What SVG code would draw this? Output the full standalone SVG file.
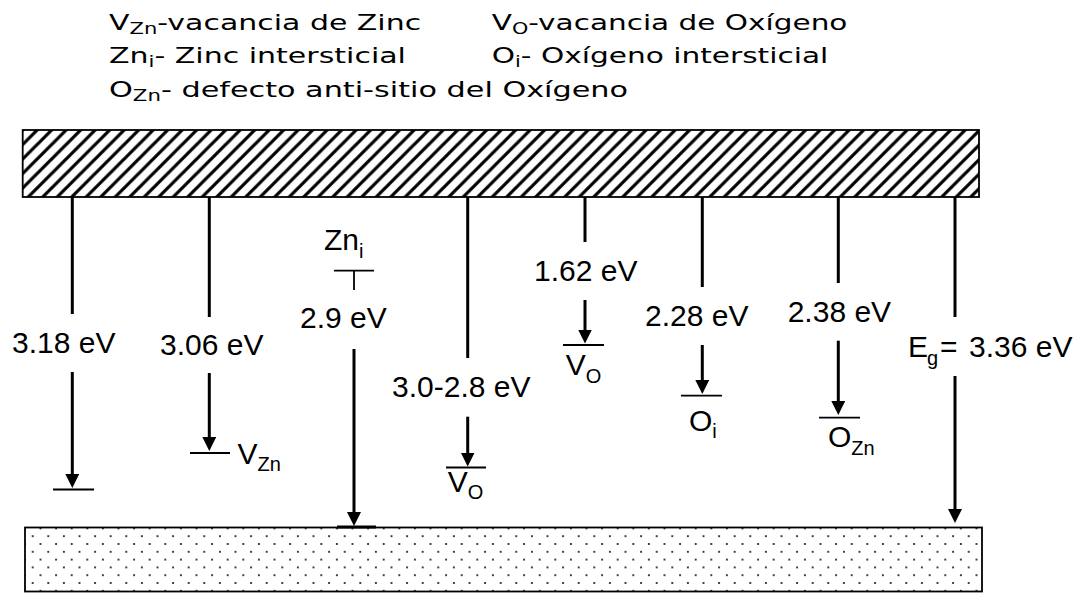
<svg xmlns="http://www.w3.org/2000/svg" width="1083" height="593" viewBox="0 0 1083 593">
<style>
.lg{font-family:"DejaVu Sans","Verdana",sans-serif;font-size:21.3px;fill:#000}
.lb{font-family:"Liberation Sans",Arial,sans-serif;font-size:30px;fill:#000}
.sb{font-size:20px}
.ln{stroke:#000;stroke-width:3;fill:none}
.lv{stroke:#000;stroke-width:1.8;fill:none}
.band{stroke:#000;stroke-width:1.8}
</style>
<defs>
<pattern id="hatch" patternUnits="userSpaceOnUse" x="22.7" y="130" width="14.5" height="14.5">
<path d="M-2,16.5 L16.5,-2 M-2,2 L2,-2 M12.5,16.5 L16.5,12.5" stroke="#000" stroke-width="3.2"/>
</pattern>
<pattern id="dots" patternUnits="userSpaceOnUse" x="32.7" y="536.2" width="15.6" height="15.6">
<circle cx="0" cy="0" r="1"/><circle cx="15.6" cy="0" r="1"/><circle cx="0" cy="15.6" r="1"/><circle cx="15.6" cy="15.6" r="1"/><circle cx="7.8" cy="7.8" r="1"/>
</pattern>
<marker id="ah" viewBox="0 0 14 14" markerUnits="userSpaceOnUse" markerWidth="14" markerHeight="14" refX="6" refY="7" orient="auto">
<path d="M0,0 L14,7 L0,14 z" fill="#000"/>
</marker>
</defs>
<rect width="1083" height="593" fill="#fff"/>

<g id="legend">
<text class="lg" transform="translate(109,29.5) scale(1.407,1)">V<tspan font-size="15" dy="4">Zn</tspan><tspan dy="-4">-vacancia de Zinc</tspan></text>
<text class="lg" transform="translate(491.7,29.5) scale(1.386,1)">V<tspan font-size="15" dy="4">O</tspan><tspan dy="-4">-vacancia de Oxígeno</tspan></text>
<text class="lg" transform="translate(109,63) scale(1.409,1)">Zn<tspan font-size="15" dy="4">i</tspan><tspan dy="-4">- Zinc intersticial</tspan></text>
<text class="lg" transform="translate(491.7,63) scale(1.39,1)">O<tspan font-size="15" dy="4">i</tspan><tspan dy="-4">- Oxígeno intersticial</tspan></text>
<text class="lg" transform="translate(109,96.5) scale(1.421,1)">O<tspan font-size="15" dy="4">Zn</tspan><tspan dy="-4">- defecto anti-sitio del Oxígeno</tspan></text>
</g>

<g id="conduction-band">
<rect class="band" x="22.7" y="130" width="956.3" height="67" fill="url(#hatch)"/>
</g>
<g id="valence-band">
<rect class="band" x="25" y="527.5" width="957" height="64" fill="url(#dots)"/>
</g>

<g id="connectors">
<line class="ln" x1="72.3" y1="197" x2="72.3" y2="314"/>
<line class="ln" x1="72.3" y1="372" x2="72.3" y2="480" marker-end="url(#ah)"/>
<line class="ln" x1="209.3" y1="197" x2="209.3" y2="317"/>
<line class="ln" x1="209.3" y1="373" x2="209.3" y2="443" marker-end="url(#ah)"/>
<line class="lv" x1="354" y1="270.7" x2="354" y2="290"/>
<line class="ln" x1="354" y1="349" x2="354" y2="518" marker-end="url(#ah)"/>
<line class="ln" x1="467.7" y1="197" x2="467.7" y2="358"/>
<line class="ln" x1="467.7" y1="416.7" x2="467.7" y2="458.5" marker-end="url(#ah)"/>
<line class="ln" x1="585" y1="197" x2="585" y2="242"/>
<line class="ln" x1="585" y1="300" x2="585" y2="335.5" marker-end="url(#ah)"/>
<line class="ln" x1="702.3" y1="197" x2="702.3" y2="287"/>
<line class="ln" x1="702.3" y1="345" x2="702.3" y2="386" marker-end="url(#ah)"/>
<line class="ln" x1="838.3" y1="197" x2="838.3" y2="283"/>
<line class="ln" x1="838.3" y1="340.7" x2="838.3" y2="407" marker-end="url(#ah)"/>
<line class="ln" x1="955" y1="197" x2="955" y2="317"/>
<line class="ln" x1="955" y1="376" x2="955" y2="515" marker-end="url(#ah)"/>
</g>

<g id="energy-labels">
<text class="lb" x="12" y="353">3.18 eV</text>
<text class="lb" x="160" y="355">3.06 eV</text>
<text class="lb" x="300" y="328">2.9 eV</text>
<text class="lb" x="392" y="396.7">3.0-2.8 eV</text>
<text class="lb" x="534" y="280.7">1.62 eV</text>
<text class="lb" x="645" y="326">2.28 eV</text>
<text class="lb" x="787.7" y="321.7">2.38 eV</text>
<text class="lb" x="908" y="356.7">E<tspan class="sb" x="927" y="365">g</tspan><tspan x="940" y="356.7">=</tspan><tspan x="969" y="356.7">3.36 eV</tspan></text>
</g>

<g id="level-318">
<line class="lv" x1="53" y1="489.5" x2="94" y2="489.5"/>
</g>
<g id="level-VZn">
<line class="lv" x1="190" y1="453" x2="230" y2="453"/>
<text class="lb" x="237.6" y="464">V<tspan class="sb" y="471">Zn</tspan></text>
</g>
<g id="level-Zni">
<line class="lv" x1="334" y1="270.7" x2="374" y2="270.7"/>
<text class="lb" x="324" y="250">Zn<tspan class="sb" font-size="22" y="258">i</tspan></text>
<line stroke="#000" stroke-width="3" x1="337" y1="527" x2="376" y2="527"/>
</g>
<g id="level-VO-deep">
<line class="lv" x1="446" y1="467.5" x2="486" y2="467.5"/>
<text class="lb" x="447.7" y="491.6">V<tspan class="sb" y="499">O</tspan></text>
</g>
<g id="level-VO-shallow">
<line class="lv" x1="563" y1="345" x2="604" y2="345"/>
<text class="lb" x="565.7" y="375">V<tspan class="sb" y="382.7">O</tspan></text>
</g>
<g id="level-Oi">
<line class="lv" x1="681" y1="395.7" x2="722" y2="395.7"/>
<text class="lb" x="689" y="430.7">O<tspan class="sb" font-size="22" y="438">i</tspan></text>
</g>
<g id="level-OZn">
<line class="lv" x1="819" y1="417.7" x2="860" y2="417.7"/>
<text class="lb" x="828" y="446.7">O<tspan class="sb" y="455">Zn</tspan></text>
</g>
</svg>
